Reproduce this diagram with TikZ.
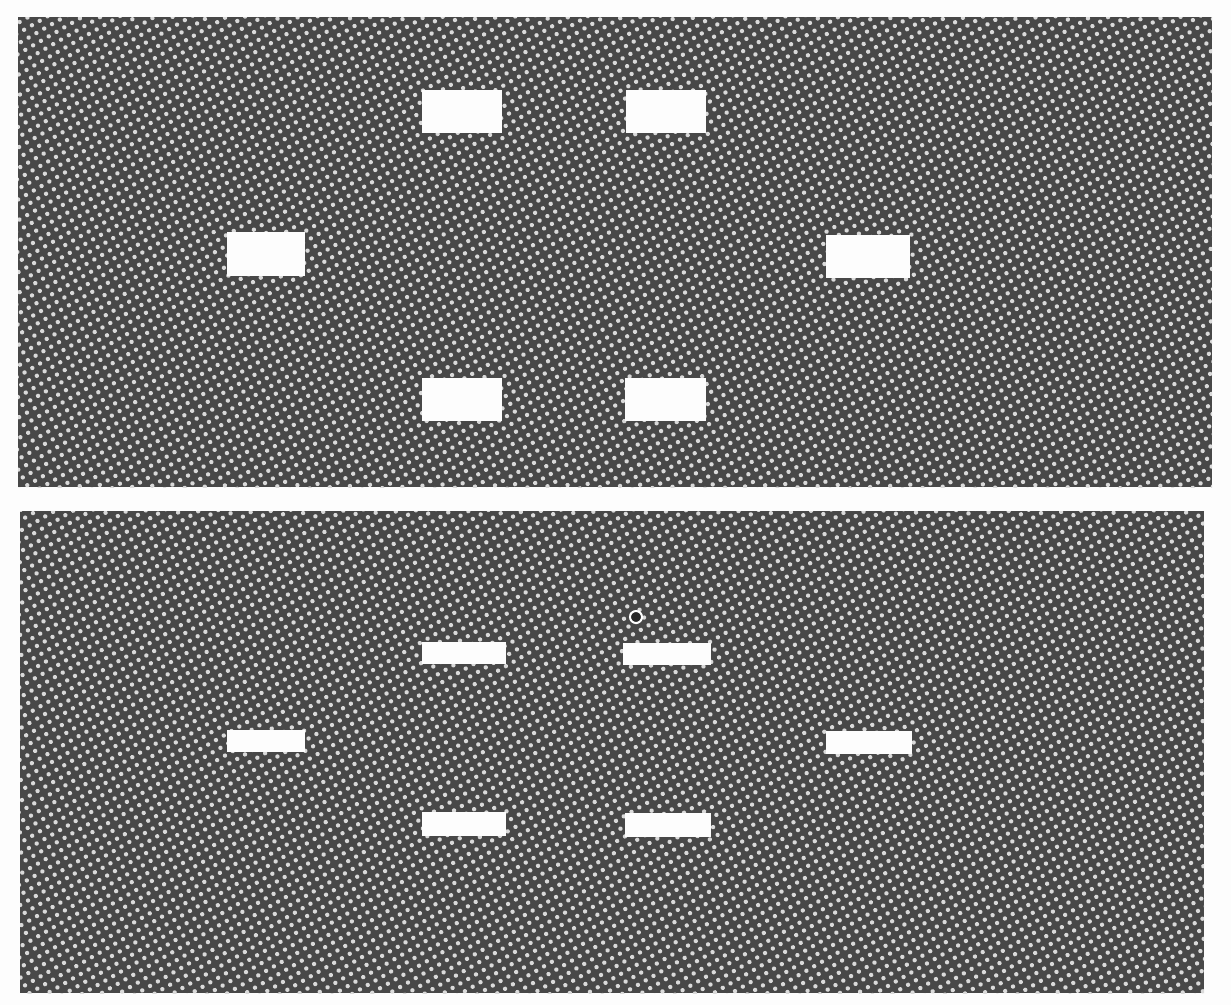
\documentclass[tikz,border=0pt]{standalone}
\usetikzlibrary{patterns.meta}
\pgfdeclarepattern{name=hdots, type=uncolored,
  bottom left={\pgfpoint{-0.5pt}{-0.5pt}}, top right={\pgfpoint{9.5pt}{9.5pt}},
  tile size={\pgfpoint{9pt}{9pt}},
  tile transformation={\pgftransformrotate{30}},
  code={\pgfpathcircle{\pgfpoint{4.5pt}{4.5pt}}{2.2pt}\pgfusepath{fill}}}
\definecolor{ink}{HTML}{484848}
\definecolor{paper}{HTML}{FDFDFD}
\tikzset{
  panel/.style={fill=ink, draw=none},
  screen/.style={pattern={hdots}, pattern color=white!80!ink},
  slot/.style={rectangle, fill=paper, draw=none, inner sep=0pt, outer sep=0pt},
}
\begin{document}
\begin{tikzpicture}[x=1pt,y=-1pt]
\useasboundingbox[fill=paper] (0,0) rectangle (1231,1005);
% panels
\fill[panel] (18,17) rectangle (1212,487);
\fill[screen] (18,17) rectangle (1212,487);
\fill[panel] (20,511) rectangle (1204,993);
\fill[screen] (20,511) rectangle (1204,993);
% top panel windows
\node[slot, minimum width=80pt, minimum height=43pt] (ta) at (462,111) {};
\node[slot, minimum width=80pt, minimum height=43pt] (tb) at (666,111) {};
\node[slot, minimum width=78pt, minimum height=44pt] (tc) at (266,254) {};
\node[slot, minimum width=84pt, minimum height=43pt] (td) at (868,256) {};
\node[slot, minimum width=80pt, minimum height=43pt] (te) at (462,399) {};
\node[slot, minimum width=81pt, minimum height=43pt] (tf) at (665,399) {};
% bottom panel slits
\node[slot, minimum width=84pt, minimum height=22pt] (ba) at (464,653) {};
\node[slot, minimum width=88pt, minimum height=22pt] (bb) at (667,654) {};
\node[slot, minimum width=78pt, minimum height=22pt] (bc) at (266,741) {};
\node[slot, minimum width=86pt, minimum height=23pt] (bd) at (869,742) {};
\node[slot, minimum width=84pt, minimum height=24pt] (be) at (464,824) {};
\node[slot, minimum width=86pt, minimum height=24pt] (bf) at (668,825) {};
% small blemish
\node[circle, draw=paper, line width=2pt, fill=black!85, minimum size=12pt, inner sep=0pt] (spot) at (636,617) {};
\end{tikzpicture}
\end{document}
